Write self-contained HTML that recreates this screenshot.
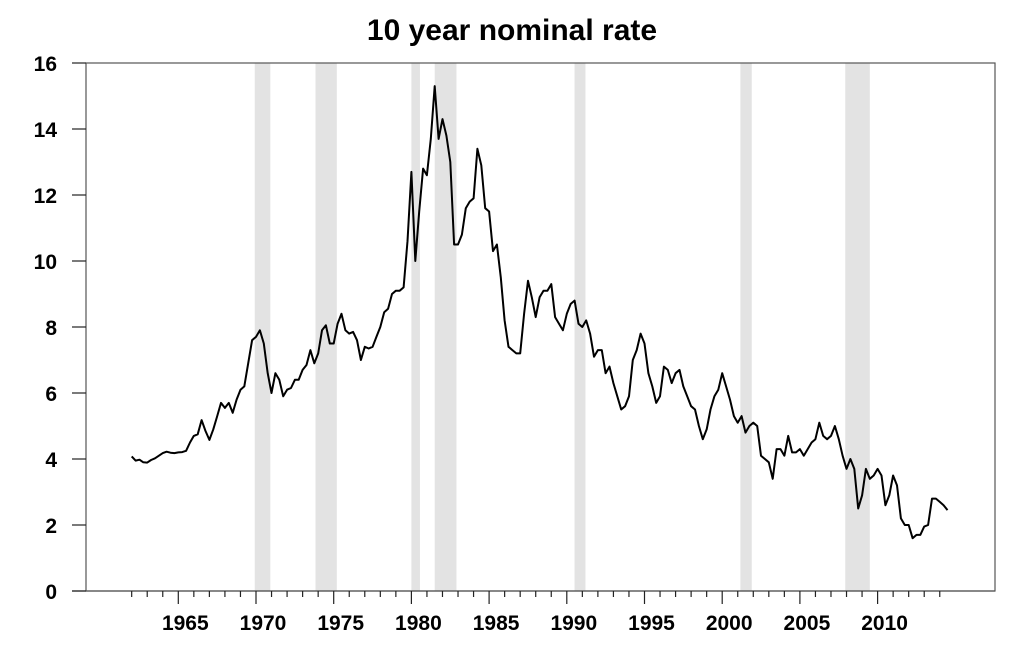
<!DOCTYPE html>
<html><head><meta charset="utf-8"><style>
html,body{margin:0;padding:0;background:#fff;}
svg{display:block;font-family:"Liberation Sans",Arial,sans-serif;}
</style></head><body>
<svg id="chart" width="1024" height="647" viewBox="0 0 1024 647">
<text x="512" y="40" text-anchor="middle" font-size="30" font-weight="bold">10 year nominal rate</text>
<g id="bands"></g>
<g id="axes"></g>
<path id="line" fill="none" stroke="#000" stroke-width="2" stroke-linejoin="round"></path>
</svg>
<script>
const startYear = 1962;
const quarterlyRates = [
4.08,3.95,3.98,3.90, 3.89,3.97,4.02,4.10, 4.18,4.22,4.19,4.18, 4.20,4.21,4.25,4.50,
4.70,4.75,5.18,4.85, 4.58,4.90,5.30,5.70, 5.55,5.70,5.40,5.80, 6.10,6.20,6.90,7.60,
7.70,7.90,7.50,6.60, 6.00,6.60,6.40,5.90, 6.10,6.15,6.40,6.40, 6.70,6.85,7.30,6.90,
7.20,7.90,8.05,7.50, 7.50,8.10,8.40,7.90, 7.80,7.85,7.60,7.00, 7.40,7.35,7.40,7.70,
8.00,8.45,8.55,9.00, 9.10,9.10,9.20,10.6, 12.7,10.0,11.5,12.8, 12.6,13.7,15.3,13.7,
14.3,13.8,13.0,10.5, 10.5,10.8,11.6,11.8, 11.9,13.4,12.9,11.6, 11.5,10.3,10.5,9.5,
8.2,7.4,7.3,7.2, 7.2,8.4,9.4,8.9, 8.3,8.9,9.1,9.1, 9.3,8.3,8.1,7.9,
8.4,8.7,8.8,8.1, 8.0,8.2,7.8,7.1, 7.3,7.3,6.6,6.8, 6.3,5.9,5.5,5.6,
5.9,7.0,7.3,7.8, 7.5,6.6,6.2,5.7, 5.9,6.8,6.7,6.3, 6.6,6.7,6.2,5.9,
5.6,5.5,5.0,4.6, 4.9,5.5,5.9,6.1, 6.6,6.2,5.8,5.3, 5.1,5.3,4.8,5.0,
5.1,5.0,4.1,4.0, 3.9,3.4,4.3,4.3, 4.1,4.7,4.2,4.2, 4.3,4.1,4.3,4.5,
4.6,5.1,4.7,4.6, 4.7,5.0,4.6,4.1, 3.7,4.0,3.7,2.5, 2.9,3.7,3.4,3.5,
3.7,3.5,2.6,2.9, 3.5,3.2,2.2,2.0, 2.0,1.6,1.7,1.7, 1.95,2.0,2.8,2.8,
2.7,2.6,2.45];
const recessionStart = [1969.92,1973.83,1980.0,1981.5,1990.5,2001.17,2007.92];
const recessionEnd   = [1970.92,1975.2,1980.55,1982.9,1991.2,2001.9,2009.5];
const yTicks = [0,2,4,6,8,10,12,14,16];
const xLabels = [1965,1970,1975,1980,1985,1990,1995,2000,2005,2010];
const firstMinorYear = 1962, lastMinorYear = 2014;

const L=86, R=995, T=63, B=591;
const xs = yr => 178.3 + (yr-1965)*15.54;
const ys = v => B - (v/16)*(B-T);
const NS="http://www.w3.org/2000/svg";
function mk(tag, attrs, parent){const e=document.createElementNS(NS,tag);for(const k in attrs)e.setAttribute(k,attrs[k]);parent.appendChild(e);return e;}

const bands=document.getElementById('bands');
recessionStart.forEach((s,i)=>{
  const r=mk('rect',{x:xs(s),y:T,width:xs(recessionEnd[i])-xs(s),height:B-T,fill:'#e3e3e3'},bands);
  
  
});

const ax=document.getElementById('axes');
const frame=mk('rect',{x:L,y:T,width:R-L,height:B-T,fill:'none',stroke:'#555','stroke-width':1.2},ax);


const xl=mk('line',{x1:72,y1:B,x2:R,y2:B,stroke:'#555','stroke-width':1.2},ax);


yTicks.forEach(v=>{
  const y=ys(v);
  const t=mk('line',{x1:72,y1:y,x2:L,y2:y,stroke:'#222','stroke-width':1.2},ax);
  
  
  const lb=mk('text',{x:57,y:y+8,'text-anchor':'end','font-size':21,'font-weight':'bold'},ax);
  lb.textContent=v;
  
  
});
for(let yr=firstMinorYear; yr<=lastMinorYear; yr++){
  const major = yr%5===0;
  const t=mk('line',{x1:xs(yr),y1:B,x2:xs(yr),y2:B+(major?13:6),stroke:'#222','stroke-width':1.2},ax);
  
  
}
xLabels.forEach(yr=>{
  const lb=mk('text',{x:xs(yr)+7,y:630,'text-anchor':'middle','font-size':21,'font-weight':'bold'},ax);
  lb.textContent=yr;
  
  
});

let d='';
quarterlyRates.forEach((v,i)=>{
  const yr=startYear+i/4;
  d+=(i?'L':'M')+xs(yr).toFixed(1)+','+ys(v).toFixed(1);
});
document.getElementById('line').setAttribute('d',d);
</script>
</body></html>
